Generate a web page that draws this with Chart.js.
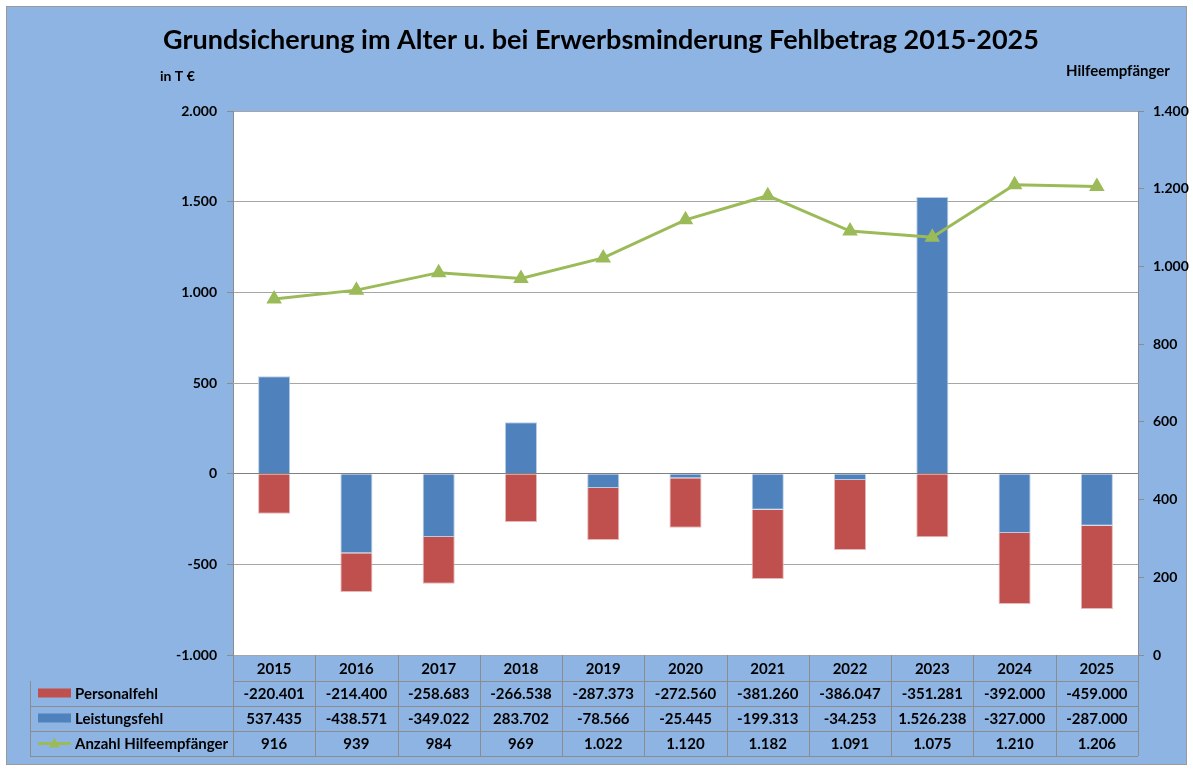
<!DOCTYPE html>
<html>
<head>
<meta charset="utf-8">
<script src="https://cdn.jsdelivr.net/npm/chart.js@4/dist/chart.umd.min.js"></script>
<style>
  html, body { margin: 0; padding: 0; background: #fff; }
  #wrap { width: 1193px; height: 771px; }
</style>
</head>
<body>
<div id="wrap"><canvas id="chart" width="1193" height="771"></canvas></div>
<script>
const years = ['2015', '2016', '2017', '2018', '2019', '2020', '2021', '2022', '2023', '2024', '2025']
const personalfehl = [-220401, -214400, -258683, -266538, -287373, -272560, -381260, -386047, -351281, -392000, -459000]
const leistungsfehl = [537435, -438571, -349022, 283702, -78566, -25445, -199313, -34253, 1526238, -327000, -287000]
const hilfeempfaenger = [916, 939, 984, 969, 1022, 1120, 1182, 1091, 1075, 1210, 1206]

const BG = '#8DB4E2'
const RED = '#C0504D'
const BLUE = '#4F81BD'
const GREEN = '#9BBB59'
const GRID = '#a6a6a6'
const FONT = 'Lato, "Open Sans", sans-serif'

function de(v) {
  return v.toLocaleString('de-DE')
}

// frame, white plot area, title, axis captions
const framePlugin = {
  id: 'frame',
  beforeDraw(chart) {
    const ctx = chart.ctx
    const a = chart.chartArea
    ctx.save()
    ctx.fillStyle = '#fff'
    ctx.fillRect(0, 0, chart.width, chart.height)
    ctx.fillStyle = BG
    ctx.fillRect(6, 6, 1181, 759)
    ctx.strokeStyle = '#9a9a9a'
    ctx.lineWidth = 1
    ctx.strokeRect(6.5, 6.5, 1180, 758)
    ctx.fillStyle = '#fff'
    ctx.fillRect(a.left, a.top, a.right - a.left, a.bottom - a.top)

    ctx.fillStyle = '#000'
    ctx.textBaseline = 'middle'
    ctx.textAlign = 'center'
    ctx.font = 'bold 27px ' + FONT
    ctx.fillText('Grundsicherung im Alter u. bei Erwerbsminderung Fehlbetrag 2015-2025', 601, 40)
    ctx.font = 'bold 14px ' + FONT
    ctx.textAlign = 'left'
    ctx.fillText('in T €', 160, 76)
    ctx.font = 'bold 15px ' + FONT
    ctx.fillText('Hilfeempfänger', 1066, 71)
    ctx.restore()
  }
}

// data table under the plot, aligned to the x scale
const tablePlugin = {
  id: 'table',
  afterDraw(chart) {
    const ctx = chart.ctx
    const x = chart.scales.x
    const a = chart.chartArea
    const w = (a.right - a.left) / years.length
    const top = a.bottom
    const rows = [top, 681, 706, 731, 756]
    const labelLeft = 30

    ctx.save()
    ctx.strokeStyle = '#8c8c8c'
    ctx.lineWidth = 1
    ctx.beginPath()
    for (let r = 1; r < rows.length; r++) {
      ctx.moveTo(r === 1 ? a.left : labelLeft, rows[r] + 0.5)
      ctx.lineTo(a.right, rows[r] + 0.5)
    }
    ctx.moveTo(labelLeft + 0.5, rows[1])
    ctx.lineTo(labelLeft + 0.5, rows[4])
    for (let i = 0; i <= years.length; i++) {
      const px = Math.round(a.left + i * w) + 0.5
      ctx.moveTo(px, top)
      ctx.lineTo(px, rows[4])
    }
    ctx.stroke()

    ctx.fillStyle = '#000'
    ctx.font = 'bold 15px ' + FONT
    ctx.textAlign = 'center'
    ctx.textBaseline = 'middle'
    const series = [personalfehl, leistungsfehl, hilfeempfaenger]
    years.forEach((y, i) => {
      const cx = x.getPixelForValue(i)
      ctx.fillText(y, cx, (rows[0] + rows[1]) / 2 + 1)
      series.forEach((s, r) => {
        ctx.fillText(de(s[i]), cx, (rows[r + 1] + rows[r + 2]) / 2 + 1)
      })
    })

    // legend keys
    const labels = ['Personalfehl', 'Leistungsfehl', 'Anzahl Hilfeempfänger']
    ctx.textAlign = 'left'
    labels.forEach((l, r) => {
      const cy = (rows[r + 1] + rows[r + 2]) / 2
      if (r === 0 || r === 1) {
        ctx.fillStyle = r === 0 ? RED : BLUE
        ctx.fillRect(38, cy - 5, 33, 9)
      } else {
        ctx.strokeStyle = GREEN
        ctx.lineWidth = 3
        ctx.beginPath()
        ctx.moveTo(38, cy)
        ctx.lineTo(71, cy)
        ctx.stroke()
        ctx.fillStyle = GREEN
        ctx.beginPath()
        ctx.moveTo(54.5, cy - 6)
        ctx.lineTo(60, cy + 4)
        ctx.lineTo(49, cy + 4)
        ctx.closePath()
        ctx.fill()
      }
      ctx.fillStyle = '#000'
      ctx.fillText(l, 75, cy + 1)
    })
    ctx.restore()
  }
}

new Chart(document.getElementById('chart'), {
  data: {
    labels: years,
    datasets: [{
      type: 'line',
      label: 'Anzahl Hilfeempfänger',
      data: hilfeempfaenger,
      yAxisID: 'y1',
      borderColor: GREEN,
      backgroundColor: GREEN,
      borderWidth: 3,
      pointStyle: 'triangle',
      pointRadius: 6,
      pointBackgroundColor: GREEN,
      pointBorderColor: GREEN,
      tension: 0,
      order: 0
    }, {
      type: 'bar',
      label: 'Leistungsfehl',
      data: leistungsfehl,
      yAxisID: 'y',
      backgroundColor: BLUE,
      borderColor: '#b9cde5',
      borderWidth: 1,
      order: 1
    }, {
      type: 'bar',
      label: 'Personalfehl',
      data: personalfehl,
      yAxisID: 'y',
      backgroundColor: RED,
      borderColor: '#e6b9b8',
      borderWidth: 1,
      order: 1
    }]
  },
  options: {
    responsive: false,
    animation: false,
    layout: { padding: { top: 111, bottom: 116, left: 0, right: 0 } },
    datasets: { bar: { categoryPercentage: 1, barPercentage: 0.39 } },
    plugins: { legend: { display: false }, title: { display: false }, tooltip: { enabled: false } },
    scales: {
      x: { display: false, stacked: true },
      y: {
        position: 'left',
        stacked: true,
        min: -1000000,
        max: 2000000,
        afterFit: (s) => { s.width = 233 },
        ticks: {
          stepSize: 500000,
          padding: 10,
          color: '#000',
          font: { family: FONT, weight: 'bold', size: 14 },
          callback: (v) => de(v / 1000)
        },
        grid: {
          color: (c) => c.tick && c.tick.value === 0 ? '#7f7f7f' : GRID,
          tickLength: 6,
          tickColor: '#8c8c8c'
        },
        border: { color: '#8c8c8c' }
      },
      y1: {
        position: 'right',
        min: 0,
        max: 1400,
        afterFit: (s) => { s.width = 1193 - 1138 },
        ticks: {
          stepSize: 200,
          padding: 9,
          color: '#000',
          font: { family: FONT, weight: 'bold', size: 14 },
          callback: (v) => de(v)
        },
        grid: { drawOnChartArea: false, tickLength: 6, tickColor: '#8c8c8c' },
        border: { color: '#8c8c8c' }
      }
    }
  },
  plugins: [framePlugin, tablePlugin]
})
</script>
</body>
</html>
